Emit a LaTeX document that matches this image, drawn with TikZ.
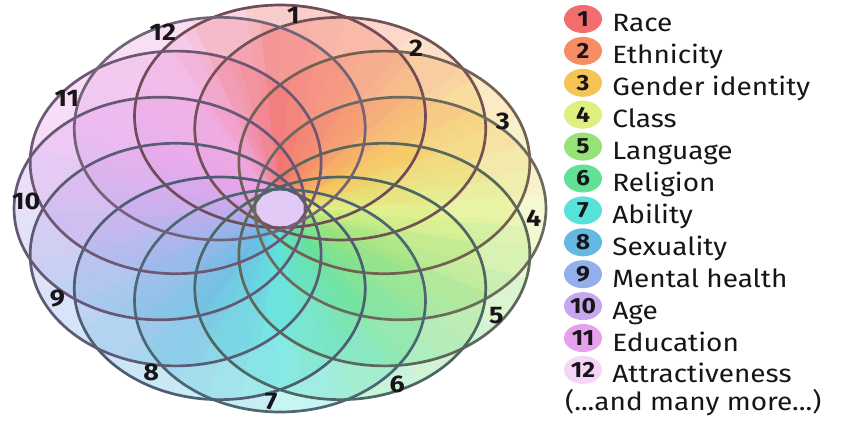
\documentclass[tikz,border=0pt]{standalone}
\usepackage{fontspec}
\setmainfont[FakeStretch=1.12]{Fira Sans}
\usetikzlibrary{positioning, shapes.geometric}
\definecolor{race}{RGB}{242,109,109}
\definecolor{ethnic}{RGB}{246,141,100}
\definecolor{gender}{RGB}{246,196,84}
\definecolor{class}{RGB}{224,240,128}
\definecolor{lang}{RGB}{150,226,118}
\definecolor{relig}{RGB}{98,224,150}
\definecolor{abil}{RGB}{88,226,220}
\definecolor{sexual}{RGB}{98,186,226}
\definecolor{mental}{RGB}{148,176,236}
\definecolor{age}{RGB}{198,166,236}
\definecolor{educ}{RGB}{230,160,236}
\definecolor{attract}{RGB}{246,214,246}
\definecolor{pinkwedge}{RGB}{240,162,222}
\definecolor{holecol}{RGB}{226,202,246}
\definecolor{edge}{RGB}{72,64,80}
\definecolor{inkcol}{RGB}{25,20,25}
\tikzset{
  layer/.style={transparency group, opacity=0.34},
  ringline/.style={draw=#1!24!edge, line width=2.7pt},
  num/.style={font=\fontsize{24}{24}\selectfont\bfseries, text=inkcol, inner sep=0pt},
  key/.style={ellipse, fill=#1, minimum width=38pt, minimum height=28pt,
    inner sep=0pt, font=\fontsize{22}{22}\selectfont\bfseries, text=inkcol},
  keytext/.style={anchor=base west, inner sep=0pt,
    font=\fontsize{25}{25}\selectfont, text=inkcol},
}
% colour wheel that each circle shows through (#1 = small turn)
\newcommand{\huewheel}[1]{%
  \begin{scope}[rotate=#1]
  \fill[race]              (0,0) -- (82.5:300)  arc[start angle=82.5,  end angle=97.6,  radius=300] -- cycle;
  \fill[race!50!ethnic]    (0,0) -- (67.5:300)  arc[start angle=67.5,  end angle=82.6,  radius=300] -- cycle;
  \fill[ethnic]            (0,0) -- (52.5:300)  arc[start angle=52.5,  end angle=67.6,  radius=300] -- cycle;
  \fill[ethnic!50!gender]  (0,0) -- (37.5:300)  arc[start angle=37.5,  end angle=52.6,  radius=300] -- cycle;
  \fill[gender]            (0,0) -- (22.5:300)  arc[start angle=22.5,  end angle=37.6,  radius=300] -- cycle;
  \fill[gender!50!class]   (0,0) -- (7.5:300)   arc[start angle=7.5,   end angle=22.6,  radius=300] -- cycle;
  \fill[class]             (0,0) -- (-7.5:300)  arc[start angle=-7.5,  end angle=7.6,   radius=300] -- cycle;
  \fill[class!50!lang]     (0,0) -- (-22.5:300) arc[start angle=-22.5, end angle=-7.4,  radius=300] -- cycle;
  \fill[lang]              (0,0) -- (-37.5:300) arc[start angle=-37.5, end angle=-22.4, radius=300] -- cycle;
  \fill[lang!50!relig]     (0,0) -- (-52.5:300) arc[start angle=-52.5, end angle=-37.4, radius=300] -- cycle;
  \fill[relig]             (0,0) -- (-67.5:300) arc[start angle=-67.5, end angle=-52.4, radius=300] -- cycle;
  \fill[relig!50!abil]     (0,0) -- (-82.5:300) arc[start angle=-82.5, end angle=-67.4, radius=300] -- cycle;
  \fill[abil]              (0,0) -- (-97.5:300) arc[start angle=-97.5, end angle=-82.4, radius=300] -- cycle;
  \fill[abil!50!sexual]    (0,0) -- (-112.5:300) arc[start angle=-112.5, end angle=-97.4, radius=300] -- cycle;
  \fill[sexual]            (0,0) -- (-127.5:300) arc[start angle=-127.5, end angle=-112.4, radius=300] -- cycle;
  \fill[sexual!50!mental]  (0,0) -- (-142.5:300) arc[start angle=-142.5, end angle=-127.4, radius=300] -- cycle;
  \fill[mental]            (0,0) -- (-157.5:300) arc[start angle=-157.5, end angle=-142.4, radius=300] -- cycle;
  \fill[mental!50!age]     (0,0) -- (-172.5:300) arc[start angle=-172.5, end angle=-157.4, radius=300] -- cycle;
  \fill[age]               (0,0) -- (172.5:300) arc[start angle=172.5, end angle=187.6, radius=300] -- cycle;
  \fill[age!50!educ]       (0,0) -- (157.5:300) arc[start angle=157.5, end angle=172.6, radius=300] -- cycle;
  \fill[educ]              (0,0) -- (142.5:300) arc[start angle=142.5, end angle=157.6, radius=300] -- cycle;
  \fill[educ!50!pinkwedge] (0,0) -- (127.5:300) arc[start angle=127.5, end angle=142.6, radius=300] -- cycle;
  \fill[pinkwedge]         (0,0) -- (112.5:300) arc[start angle=112.5, end angle=127.6, radius=300] -- cycle;
  \fill[pinkwedge!50!race] (0,0) -- (97.5:300)  arc[start angle=97.5,  end angle=112.6, radius=300] -- cycle;
  \end{scope}
}

\begin{document}
\begin{tikzpicture}[x=1pt, y=1pt]
  \useasboundingbox[fill=white] (0,0) rectangle (842,421);

  % twelve circles through the middle, squashed to ellipses
  \begin{scope}[shift={(280,212.5)}, yscale=0.765]
    \begin{scope}[layer] \clip (90:120.5)   circle[radius=145.5]; \huewheel{0}      \end{scope}
    \begin{scope}[layer] \clip (60:120.5)   circle[radius=145.5]; \huewheel{7.5}    \end{scope}
    \begin{scope}[layer] \clip (30:120.5)   circle[radius=145.5]; \huewheel{3.75}   \end{scope}
    \begin{scope}[layer] \clip (0:120.5)    circle[radius=145.5]; \huewheel{-3.75}  \end{scope}
    \begin{scope}[layer] \clip (-30:120.5)  circle[radius=145.5]; \huewheel{1.875}  \end{scope}
    \begin{scope}[layer] \clip (-60:120.5)  circle[radius=145.5]; \huewheel{-5.625} \end{scope}
    \begin{scope}[layer] \clip (-90:120.5)  circle[radius=145.5]; \huewheel{5.625}  \end{scope}
    \begin{scope}[layer] \clip (-120:120.5) circle[radius=145.5]; \huewheel{-1.875} \end{scope}
    \begin{scope}[layer] \clip (-150:120.5) circle[radius=145.5]; \huewheel{0.94}   \end{scope}
    \begin{scope}[layer] \clip (180:120.5)  circle[radius=145.5]; \huewheel{-6.56}  \end{scope}
    \begin{scope}[layer] \clip (150:120.5)  circle[radius=145.5]; \huewheel{4.69}   \end{scope}
    \begin{scope}[layer] \clip (120:120.5)  circle[radius=145.5]; \huewheel{-2.81}  \end{scope}

    \fill[holecol] (0,0) circle[radius=25];

    \draw[ringline=race]    (90:120.5)   circle[radius=145.5];
    \draw[ringline=ethnic]  (60:120.5)   circle[radius=145.5];
    \draw[ringline=gender]  (30:120.5)   circle[radius=145.5];
    \draw[ringline=class]   (0:120.5)    circle[radius=145.5];
    \draw[ringline=lang]    (-30:120.5)  circle[radius=145.5];
    \draw[ringline=relig]   (-60:120.5)  circle[radius=145.5];
    \draw[ringline=abil]    (-90:120.5)  circle[radius=145.5];
    \draw[ringline=sexual]  (-120:120.5) circle[radius=145.5];
    \draw[ringline=mental]  (-150:120.5) circle[radius=145.5];
    \draw[ringline=age]     (180:120.5)  circle[radius=145.5];
    \draw[ringline=educ]    (150:120.5)  circle[radius=145.5];
    \draw[ringline=attract] (120:120.5)  circle[radius=145.5];

    % numbers on the rim
    \node[num] (n1)  at (87:253)   {1};
    \node[num] (n2)  at (57:250)   {2};
    \node[num] (n3)  at (27:250)   {3};
    \node[num] (n4)  at (-3:254)   {4};
    \node[num] (n5)  at (-33:258)  {5};
    \node[num] (n6)  at (-63:258)  {6};
    \node[num] (n7)  at (-92:252)  {7};
    \node[num] (n8)  at (-121:250) {8};
    \node[num] (n9)  at (-152:252) {9};
    \node[num] (n10) at (178:254)  {10};
    \node[num] (n11) at (146:257)  {11};
    \node[num] (n12) at (117:258)  {12};
  \end{scope}

  % legend
  \node[key=race] (k1) at (583,402) {1};
  \node[key=ethnic,  below=3.5pt of k1]  (k2)  {2};
  \node[key=gender,  below=3.5pt of k2]  (k3)  {3};
  \node[key=class,   below=3.5pt of k3]  (k4)  {4};
  \node[key=lang,    below=3.5pt of k4]  (k5)  {5};
  \node[key=relig,   below=3.5pt of k5]  (k6)  {6};
  \node[key=abil,    below=3.5pt of k6]  (k7)  {7};
  \node[key=sexual,  below=3.5pt of k7]  (k8)  {8};
  \node[key=mental,  below=3.5pt of k8]  (k9)  {9};
  \node[key=age,     below=3.5pt of k9]  (k10) {10};
  \node[key=educ,    below=3.5pt of k10] (k11) {11};
  \node[key=attract, below=3.5pt of k11] (k12) {12};

  \node[keytext] (t1)  at ([xshift=10pt, yshift=-13pt]k1.east)  {Race};
  \node[keytext] (t2)  at ([xshift=10pt, yshift=-13pt]k2.east)  {Ethnicity};
  \node[keytext] (t3)  at ([xshift=10pt, yshift=-13pt]k3.east)  {Gender identity};
  \node[keytext] (t4)  at ([xshift=10pt, yshift=-13pt]k4.east)  {Class};
  \node[keytext] (t5)  at ([xshift=10pt, yshift=-13pt]k5.east)  {Language};
  \node[keytext] (t6)  at ([xshift=10pt, yshift=-13pt]k6.east)  {Religion};
  \node[keytext] (t7)  at ([xshift=10pt, yshift=-13pt]k7.east)  {Ability};
  \node[keytext] (t8)  at ([xshift=10pt, yshift=-13pt]k8.east)  {Sexuality};
  \node[keytext] (t9)  at ([xshift=10pt, yshift=-13pt]k9.east)  {Mental health};
  \node[keytext] (t10) at ([xshift=10pt, yshift=-13pt]k10.east) {Age};
  \node[keytext] (t11) at ([xshift=10pt, yshift=-13pt]k11.east) {Education};
  \node[keytext] (t12) at ([xshift=10pt, yshift=-13pt]k12.east) {Attractiveness};
  \node[keytext] (more) at (565,11) {(...and many more...)};

\end{tikzpicture}
\end{document}
